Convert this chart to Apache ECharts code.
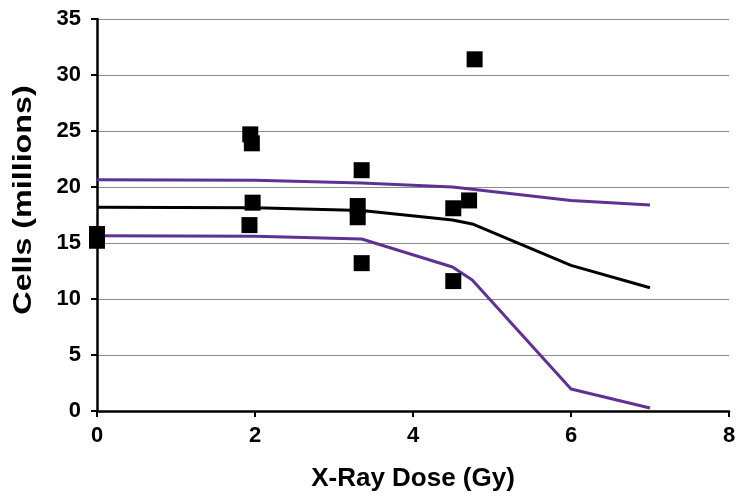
<!DOCTYPE html>
<html><head><meta charset="utf-8">
<script src="https://cdn.jsdelivr.net/npm/echarts@6/dist/echarts.min.js"></script>
<style>html,body{margin:0;padding:0;background:#fff}#c{width:750px;height:503px}</style>
</head><body><div id="c"></div>
<script>
// Observed data points (dose Gy, cells millions)
const pointDose  = [0, 0, 1.94, 1.96, 1.97, 1.93, 3.35, 3.30, 3.30, 3.35, 4.51, 4.51, 4.71, 4.78];
const pointCells = [15.8, 15.2, 24.7, 23.9, 18.6, 16.6, 21.5, 18.3, 17.3, 13.2, 18.1, 11.6, 18.8, 31.4];
// Model curves
const curveDose  = [0, 2, 3.35, 4.5, 4.75, 6, 7];
const meanCells  = [18.2, 18.15, 17.9, 17.05, 16.7, 13.0, 11.0];
const upperCells = [20.65, 20.6, 20.35, 20.0, 19.8, 18.8, 18.4];
const lowerCells = [15.65, 15.6, 15.36, 12.86, 11.7, 1.96, 0.27];
const xTicks = [0, 2, 4, 6, 8];
const yTicks = [0, 5, 10, 15, 20, 25, 30, 35];
const xTitle = 'X-Ray Dose (Gy)';
const yTitle = 'Cells (millions)';

const zip = (a, b) => a.map((v, i) => [v, b[i]]);
const font = 'Liberation Sans, Arial, sans-serif';
const chart = echarts.init(document.getElementById('c'));
chart.setOption({
  animation: false,
  grid: {left: 97, right: 21, top: 19, bottom: 92},
  graphic: [{
    type: 'text', x: 24, y: 200, rotation: Math.PI / 2, scaleX: 1.24,
    style: {text: yTitle, fontFamily: font, fontWeight: 'bold', fontSize: 26, fill: '#000',
            align: 'center', verticalAlign: 'middle'}
  }],
  xAxis: {
    type: 'value', min: xTicks[0], max: xTicks[xTicks.length-1], interval: 2,
    name: xTitle, nameLocation: 'middle', nameGap: 55,
    nameTextStyle: {fontFamily: font, fontWeight: 'bold', fontSize: 26, color: '#000'},
    axisLine: {lineStyle: {color: '#000', width: 2.5}},
    axisTick: {show: true, length: 6, lineStyle: {color: '#000', width: 2}},
    axisLabel: {fontFamily: font, fontWeight: 'bold', fontSize: 22, color: '#000', margin: 14},
    splitLine: {show: false}
  },
  yAxis: {
    type: 'value', min: yTicks[0], max: yTicks[yTicks.length-1], interval: 5,
    axisLine: {show: true, lineStyle: {color: '#000', width: 2.5}},
    axisTick: {show: true, length: 6, lineStyle: {color: '#000', width: 2}},
    axisLabel: {fontFamily: font, fontWeight: 'bold', fontSize: 22, color: '#000', margin: 16},
    splitLine: {show: true, lineStyle: {color: '#8c8c8c', width: 1.2}}
  },
  series: [
    {type: 'line', data: zip(curveDose, upperCells), symbol: 'none', lineStyle: {color: '#5f3193', width: 3}, z: 2},
    {type: 'line', data: zip(curveDose, meanCells), symbol: 'none', lineStyle: {color: '#000', width: 3}, z: 2},
    {type: 'line', data: zip(curveDose, lowerCells), symbol: 'none', lineStyle: {color: '#5f3193', width: 3}, z: 2},
    {type: 'scatter', data: zip(pointDose, pointCells), symbol: 'rect', symbolSize: 16,
     itemStyle: {color: '#000', opacity: 1}, z: 5}
  ]
});
</script></body></html>
